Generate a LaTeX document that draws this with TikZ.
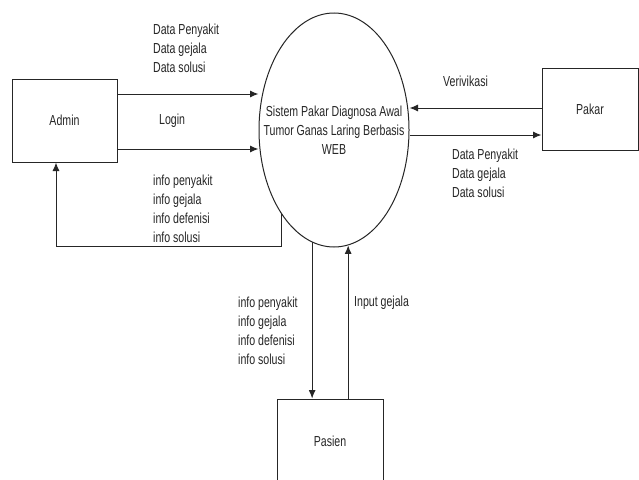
\documentclass[tikz,border=0pt]{standalone}
\usepackage{fontspec}
\setmainfont{Liberation Sans}[FakeStretch=0.73]
\usetikzlibrary{arrows.meta,shapes.geometric}
\begin{document}
\begin{tikzpicture}[x=1pt, y=-1pt,
  font=\fontsize{14.5}{19}\selectfont, text=black!85, >={Latex[length=8.5pt,width=7pt]},
  blk/.style={draw=black!85, line width=1pt, minimum width=105pt, minimum height=83pt, inner sep=0pt},
  proc/.style={draw=black!85, ellipse, line width=1pt, minimum width=150pt, minimum height=234pt, inner sep=0pt},
  lbl/.style={anchor=west, align=left, inner sep=0pt},
  flow/.style={->, draw=black!85, line width=1pt}]
\clip (0,0) rectangle (639,479);
\fill[white] (0,0) rectangle (639,479);
% external entities and the process
\node[blk] (admin) at (64.5,120.5) {Admin};
\node[blk, minimum width=96pt, minimum height=82pt] (pakar) at (590,109) {Pakar};
\node[blk, minimum width=106pt, minimum height=84pt] (pasien) at (330,441) {Pasien};
\node[proc, label={[align=center]center:{Sistem Pakar Diagnosa Awal\\Tumor Ganas Laring Berbasis\\WEB}}] (sys) at (334,130) {};
% admin flows
\coordinate (a1) at ([yshift=26.5pt]admin.east);
\coordinate (a2) at ([yshift=-28.5pt]admin.east);
\draw[flow] (a1) -- (a1 -| sys.west);
\draw[flow] (a2) -- (a2 -| sys.west);
\draw[flow] (sys.238) -- ++(0,32) -| ([xshift=-8.5pt]admin.south);
\node[lbl] (dataIn) at (153,48) {Data Penyakit\\Data gejala\\Data solusi};
\node[lbl] (login) at (159,121) {Login};
\node[lbl] (infoAdmin) at (153,209) {info penyakit\\info gejala\\info defenisi\\info solusi};
% pakar flows
\coordinate (p1) at ([yshift=1pt]pakar.west);
\coordinate (p2) at ([yshift=-26pt]pakar.west);
\draw[flow] (p1) -- (p1 -| sys.east);
\draw[flow] (p2 -| sys.east) -- (p2);
\node[lbl] (verif) at (443,81) {Verivikasi};
\node[lbl] (dataOut) at (452,173) {Data Penyakit\\Data gejala\\Data solusi};
% pasien flows
\draw[flow] (sys.259) -- (sys.259 |- pasien.north);
\draw[flow] (sys.277 |- pasien.north) -- (sys.277);
\node[lbl] (infoPasien) at (238,331) {info penyakit\\info gejala\\info defenisi\\info solusi};
\node[lbl] (input) at (354,303) {Input gejala};
\end{tikzpicture}
\end{document}
